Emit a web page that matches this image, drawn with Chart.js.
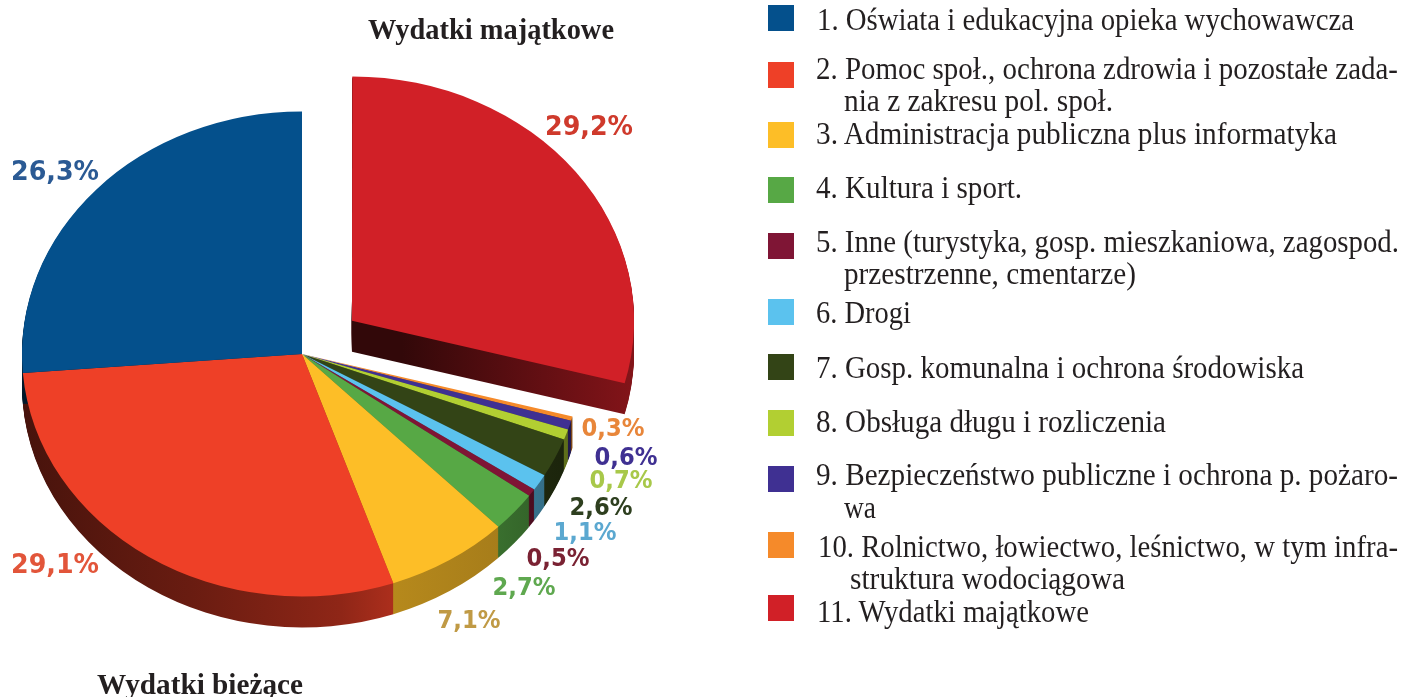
<!DOCTYPE html>
<html lang="pl">
<head>
<meta charset="utf-8">
<title>Wydatki</title>
<script src="https://cdn.jsdelivr.net/npm/chart.js@4"></script>
<style>
    body { margin: 0; background: #fff; }
    #wrap { position: relative; width: 1413px; height: 697px; overflow: hidden; }
    #pie { position: absolute; left: 0; top: 0; }
    .txt { position: absolute; white-space: nowrap; color: #231f20; font-family: "Liberation Serif", serif; transform-origin: left top; line-height: 1.15; }
    .box { position: absolute; width: 26px; filter: blur(0.7px); }
</style>
</head>
<body>
<div id="wrap"><canvas id="pie" width="1413" height="697"></canvas></div>
<script>
// legend order, the pie runs through them backwards starting from 12 o'clock
const categories = [
    ['1. Oświata i edukacyjna opieka wychowawcza'],
    ['2. Pomoc społ., ochrona zdrowia i pozostałe zada-', 'nia z zakresu pol. społ.'],
    ['3. Administracja publiczna plus informatyka'],
    ['4. Kultura i sport.'],
    ['5. Inne (turystyka, gosp. mieszkaniowa, zagospod.', 'przestrzenne, cmentarze)'],
    ['6. Drogi'],
    ['7. Gosp. komunalna i ochrona środowiska'],
    ['8. Obsługa długu i rozliczenia'],
    ['9. Bezpieczeństwo publiczne i ochrona p. pożaro-', 'wa'],
    ['10. Rolnictwo, łowiectwo, leśnictwo, w tym infra-', 'struktura wodociągowa'],
    ['11. Wydatki majątkowe']
];
const values = [26.3, 29.1, 7.1, 2.7, 0.5, 1.1, 2.6, 0.7, 0.6, 0.3, 29.2];
const colors = ['#04508C', '#EE4027', '#FDBE27', '#57A845', '#7F1535', '#5BC2EE', '#334416', '#B2CF32', '#3F3092', '#F58A2A', '#D12027'];
const labelColors = ['#2B5A94', '#E2553A', '#C09A45', '#5FA84F', '#7A2233', '#5BA8D0', '#2E3F1F', '#A8C84A', '#3F3092', '#E8863A', '#CF3A2C'];

// layout only
const labelCenters = [[55, 173], [55, 566], [469, 621], [524, 588], [558, 559], [585, 533], [601, 508], [621, 481], [626, 458], [613, 429], [589, 128]];
const labelSizes = [27, 27, 25, 25, 25, 25, 25, 25, 25, 25, 27];
const labelWidths = [88, 88, 63, 63, 63, 63, 63, 63, 63, 63, 88];
const boxTops = [5, 62, 122, 177, 233, 299, 354, 410, 466, 532, 595];
const lineBaselines = [[29], [78, 110], [143], [197], [251, 283], [322], [377], [431], [484, 517], [556, 588], [621]];
const lineLefts = [[817], [816, 844], [816], [816], [816, 844], [816], [816], [816], [816, 844], [818, 850], [817]];
const lineRights = [[1354], [1398, 1113], [1337], [1022], [1399, 1136], [911], [1304], [1166], [1398, 876], [1398, 1125], [1089]];

const pieCenter = [302, 354];
const pieRadius = 280;
const squash = 0.866;
const depth = 31;
const explode = 63;

function shade(hex, f) {
    const n = parseInt(hex.slice(1), 16);
    return 'rgb(' + Math.round((n >> 16) * f) + ',' + Math.round(((n >> 8) & 255) * f) + ',' + Math.round((n & 255) * f) + ')';
}

function wallFill(ctx, color, exploded) {
    if (exploded) {
        const g = ctx.createLinearGradient(352, 0, 636, 0);
        g.addColorStop(0, shade(color, 0.24));
        g.addColorStop(0.5, shade(color, 0.48));
        g.addColorStop(0.93, shade(color, 0.68));
        g.addColorStop(1, shade(color, 0.9));
        return g;
    }
    const g = ctx.createLinearGradient(22, 0, 582, 0);
    g.addColorStop(0, shade(color, 0.3));
    g.addColorStop(0.3, shade(color, 0.44));
    g.addColorStop(0.57, shade(color, 0.6));
    g.addColorStop(0.66, shade(color, 0.72));
    g.addColorStop(0.85, shade(color, 0.66));
    g.addColorStop(1, shade(color, 0.5));
    return g;
}

function drawSlice(ctx, arc, fill) {
    const keep = arc.options;
    if (fill) {
        arc.options = Object.create(keep);
        arc.options.backgroundColor = fill;
    }
    arc.draw(ctx);
    arc.options = keep;
}

// squashed pie with a thick edge, the arcs still come from the doughnut controller
const solidPie = {
    id: 'solidPie',
    beforeDatasetDraw: function (chart) {
        const ctx = chart.ctx;
        const arcs = chart.getDatasetMeta(0).data;
        const rev = colors.slice().reverse();
        const order = [];
        for (let i = 1; i < arcs.length; i++) order.push(i);
        order.push(0);

        order.forEach(function (i) {
            const wall = wallFill(ctx, rev[i], i === 0);
            for (let dy = depth; dy >= 1; dy--) {
                ctx.save();
                ctx.translate(pieCenter[0], pieCenter[1] + dy);
                ctx.scale(1, squash);
                ctx.translate(-arcs[i].x, -arcs[i].y);
                drawSlice(ctx, arcs[i], wall);
                ctx.restore();
            }
            if (i === 0) {
                ctx.save();
                ctx.translate(pieCenter[0], pieCenter[1]);
                ctx.scale(1, squash);
                ctx.translate(-arcs[0].x, -arcs[0].y);
                drawSlice(ctx, arcs[0]);
                ctx.restore();
            }
        });

        ctx.save();
        ctx.translate(pieCenter[0], pieCenter[1]);
        ctx.scale(1, squash);
        ctx.translate(-arcs[0].x, -arcs[0].y);
        for (let i = 1; i < arcs.length; i++) drawSlice(ctx, arcs[i]);
        ctx.restore();
        return false;
    },
    afterDraw: function (chart) {
        const ctx = chart.ctx;
        ctx.save();
        ctx.textAlign = 'center';
        ctx.textBaseline = 'middle';
        values.forEach(function (v, i) {
            ctx.font = 'bold ' + labelSizes[i] + 'px "DejaVu Sans"';
            ctx.fillStyle = labelColors[i];
            ctx.fillText(String(v).replace('.', ',') + '%', labelCenters[i][0], labelCenters[i][1], labelWidths[i]);
        });
        ctx.restore();
    }
};

new Chart(document.getElementById('pie'), {
    type: 'pie',
    data: {
        labels: categories.map(function (c) { return c.join(' '); }).reverse(),
        datasets: [{
            data: values.slice().reverse(),
            backgroundColor: colors.slice().reverse(),
            borderWidth: 0,
            radius: pieRadius,
            offset: values.slice().reverse().map(function (v, i) { return i === 0 ? explode * 4 : 0; })
        }]
    },
    options: {
        responsive: false,
        animation: false,
        events: [],
        layout: { padding: { right: 809 } },
        plugins: { legend: { display: false }, tooltip: { enabled: false } }
    },
    plugins: [solidPie]
});

// titles and legend as page text
const wrap = document.getElementById('wrap');

function addLine(text, left, baseline, right, size, bold) {
    const el = document.createElement('span');
    el.className = 'txt';
    el.textContent = text;
    el.style.fontSize = size + 'px';
    el.style.fontWeight = bold ? 'bold' : 'normal';
    el.style.left = left + 'px';
    wrap.appendChild(el);
    // baseline of Liberation Serif inside a 1.15 line box
    el.style.top = (baseline - size * 0.875) + 'px';
    el.style.transform = 'scaleX(' + ((right - left) / el.getBoundingClientRect().width) + ')';
}

addLine('Wydatki majątkowe', 368, 38, 614, 29, true);
addLine('Wydatki bieżące', 97, 693, 303, 29, true);

categories.forEach(function (lines, i) {
    const box = document.createElement('div');
    box.className = 'box';
    box.style.left = '768px';
    box.style.top = boxTops[i] + 'px';
    box.style.height = '26px';
    box.style.background = colors[i];
    wrap.appendChild(box);
    lines.forEach(function (line, j) {
        addLine(line, lineLefts[i][j], lineBaselines[i][j], lineRights[i][j], 31, false);
    });
});
</script>
</body>
</html>
